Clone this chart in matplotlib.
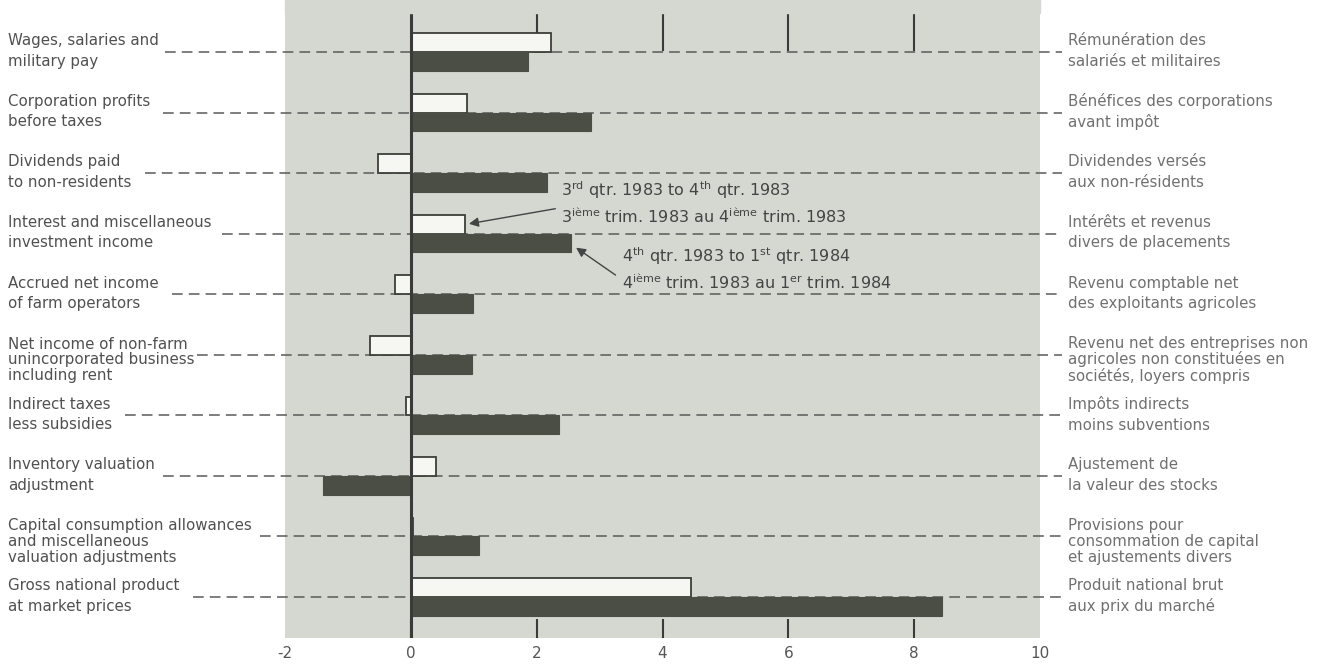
"""
Changes in national income components (percent), bilingual bar chart
"""
import matplotlib
matplotlib.use('Agg')
import matplotlib.pyplot as plt
import matplotlib.transforms as mtransforms
from matplotlib.patches import Rectangle

plt.rcParams['font.family'] = ['DejaVu Sans']
plt.rcParams['mathtext.default'] = 'regular'

# ── data ─────────────────────────────────────────────────────────────────────
labels_en = [
    'Wages, salaries and\nmilitary pay',
    'Corporation profits\nbefore taxes',
    'Dividends paid\nto non-residents',
    'Interest and miscellaneous\ninvestment income',
    'Accrued net income\nof farm operators',
    'Net income of non-farm\nunincorporated business\nincluding rent',
    'Indirect taxes\nless subsidies',
    'Inventory valuation\nadjustment',
    'Capital consumption allowances\nand miscellaneous\nvaluation adjustments',
    'Gross national product\nat market prices',
]
labels_fr = [
    'Rémunération des\nsalariés et militaires',
    'Bénéfices des corporations\navant impôt',
    'Dividendes versés\naux non-résidents',
    'Intérêts et revenus\ndivers de placements',
    'Revenu comptable net\ndes exploitants agricoles',
    'Revenu net des entreprises non\nagricoles non constituées en\nsociétés, loyers compris',
    'Impôts indirects\nmoins subventions',
    'Ajustement de\nla valeur des stocks',
    'Provisions pour\nconsommation de capital\net ajustements divers',
    'Produit national brut\naux prix du marché',
]
# 3rd qtr 1983 -> 4th qtr 1983
chg_q4_1983 = [2.22, 0.90, -0.52, 0.86, -0.25, -0.65, -0.08, 0.40, 0.04, 4.46]
# 4th qtr 1983 -> 1st qtr 1984
chg_q1_1984 = [1.86, 2.87, 2.17, 2.55, 0.99, 0.97, 2.35, -1.40, 1.08, 8.44]
x_ticks = [-2, 0, 2, 4, 6, 8, 10]

# ── layout (pixels of the 1331x668 figure) ──────────────────────────────────
W, H = 1331, 668
AX_L, AX_R, AX_T, AX_B = 285, 1040, 13, 638
dash_start_px = [165, 163, 145, 222, 172, 197, 125, 163, 260, 193]
DASH_END_PX = 1062
BAR_H = 0.31
GRAY = '#d5d7d1'
DARK = '#4a4e45'
LIGHT = '#f6f7f2'
TXT = '#505050'

fig = plt.figure(figsize=(W / 100, H / 100), dpi=100)
fig.patch.set_facecolor('white')
ax = fig.add_axes([AX_L / W, (H - AX_B) / H, (AX_R - AX_L) / W, (AX_B - AX_T) / H])
ax.set_facecolor(GRAY)
fig.patches.append(Rectangle((AX_L / W, (H - AX_T) / H), (AX_R - AX_L) / W, AX_T / H,
                             transform=fig.transFigure, color=GRAY, zorder=0))

n = len(labels_en)
ypos = list(range(n))

ax.barh([y - BAR_H / 2 for y in ypos], chg_q4_1983, height=BAR_H,
        color=LIGHT, edgecolor='#3c3f38', linewidth=1.3, zorder=3)
ax.barh([y + BAR_H / 2 for y in ypos], chg_q1_1984, height=BAR_H,
        color=DARK, edgecolor=DARK, linewidth=0.8, zorder=3)
ax.axvline(0, color='#3a3a3a', linewidth=2.2, zorder=4)

ax.set_xlim(-2, 10)
ax.set_ylim(n - 1 + 0.677, -0.644)

# dashed leader lines across the whole figure
blend = mtransforms.blended_transform_factory(fig.transFigure, ax.transData)
for y, xs in zip(ypos, dash_start_px):
    ax.plot([xs / W, DASH_END_PX / W], [y, y], transform=blend, clip_on=False,
            color='#5a5a5a', linewidth=1.1, linestyle=(0, (7, 4)), zorder=2)

# labels left and right
trans2 = mtransforms.offset_copy(blend, fig=fig, y=1, units='dots')
trans3 = mtransforms.offset_copy(blend, fig=fig, y=-5, units='dots')
for y, en, fr in zip(ypos, labels_en, labels_fr):
    three = en.count('\n') == 2
    ls = 1.05 if three else 1.45
    tr = trans3 if three else trans2
    ax.text(8 / W, y, en, transform=tr, ha='left', va='center',
            fontsize=10.8, color=TXT, linespacing=ls, clip_on=False)
    ax.text(1068 / W, y, fr, transform=tr, ha='left', va='center',
            fontsize=10.8, color='#707070', linespacing=ls, clip_on=False)

# annotations with arrows
arrow_kw = dict(arrowstyle='-|>', color='#444444', lw=1.0, mutation_scale=14)
ax.annotate('', xy=(chg_q4_1983[3] + 0.02, 3 - BAR_H / 2), xytext=(2.34, 2.58),
            arrowprops=arrow_kw, zorder=5)
ax.annotate('', xy=(chg_q1_1984[3] + 0.04, 3 + BAR_H / 2 + 0.05), xytext=(3.29, 3.71),
            arrowprops=arrow_kw, zorder=5)
ax.text(2.38, 2.28, r'3$^{rd}$ qtr. 1983 to 4$^{th}$ qtr. 1983', fontsize=11.5,
        color='#444444', va='center', ha='left', zorder=5)
ax.text(2.38, 2.72, r'3$^{ième}$ trim. 1983 au 4$^{ième}$ trim. 1983', fontsize=11.5,
        color='#444444', va='center', ha='left', zorder=5)
ax.text(3.35, 3.37, r'4$^{th}$ qtr. 1983 to 1$^{st}$ qtr. 1984', fontsize=11.5,
        color='#444444', va='center', ha='left', zorder=5)
ax.text(3.35, 3.81, r'4$^{ième}$ trim. 1983 au 1$^{er}$ trim. 1984', fontsize=11.5,
        color='#444444', va='center', ha='left', zorder=5)

# ticks
ax.xaxis.remove_overlapping_locs = False
ax.set_xticks(x_ticks)
ax.set_xticklabels([str(t) for t in x_ticks])
ax.tick_params(axis='x', which='major', length=0, pad=6, labelsize=11, labelcolor='#555555')
ax.set_xticks([0, 2, 4, 6, 8], minor=True)
ax.tick_params(axis='x', which='minor', direction='in', length=14, width=1.5, color='#3a3a3a')
ax.set_yticks([])
for s in ax.spines.values():
    s.set_visible(False)

secax = ax.secondary_xaxis('top')
secax.set_xticks([2, 4, 6, 8])
secax.tick_params(direction='in', length=27, width=1.5, color='#3a3a3a', labeltop=False)
for s in secax.spines.values():
    s.set_visible(False)

fig.savefig('out.png', dpi=100)
